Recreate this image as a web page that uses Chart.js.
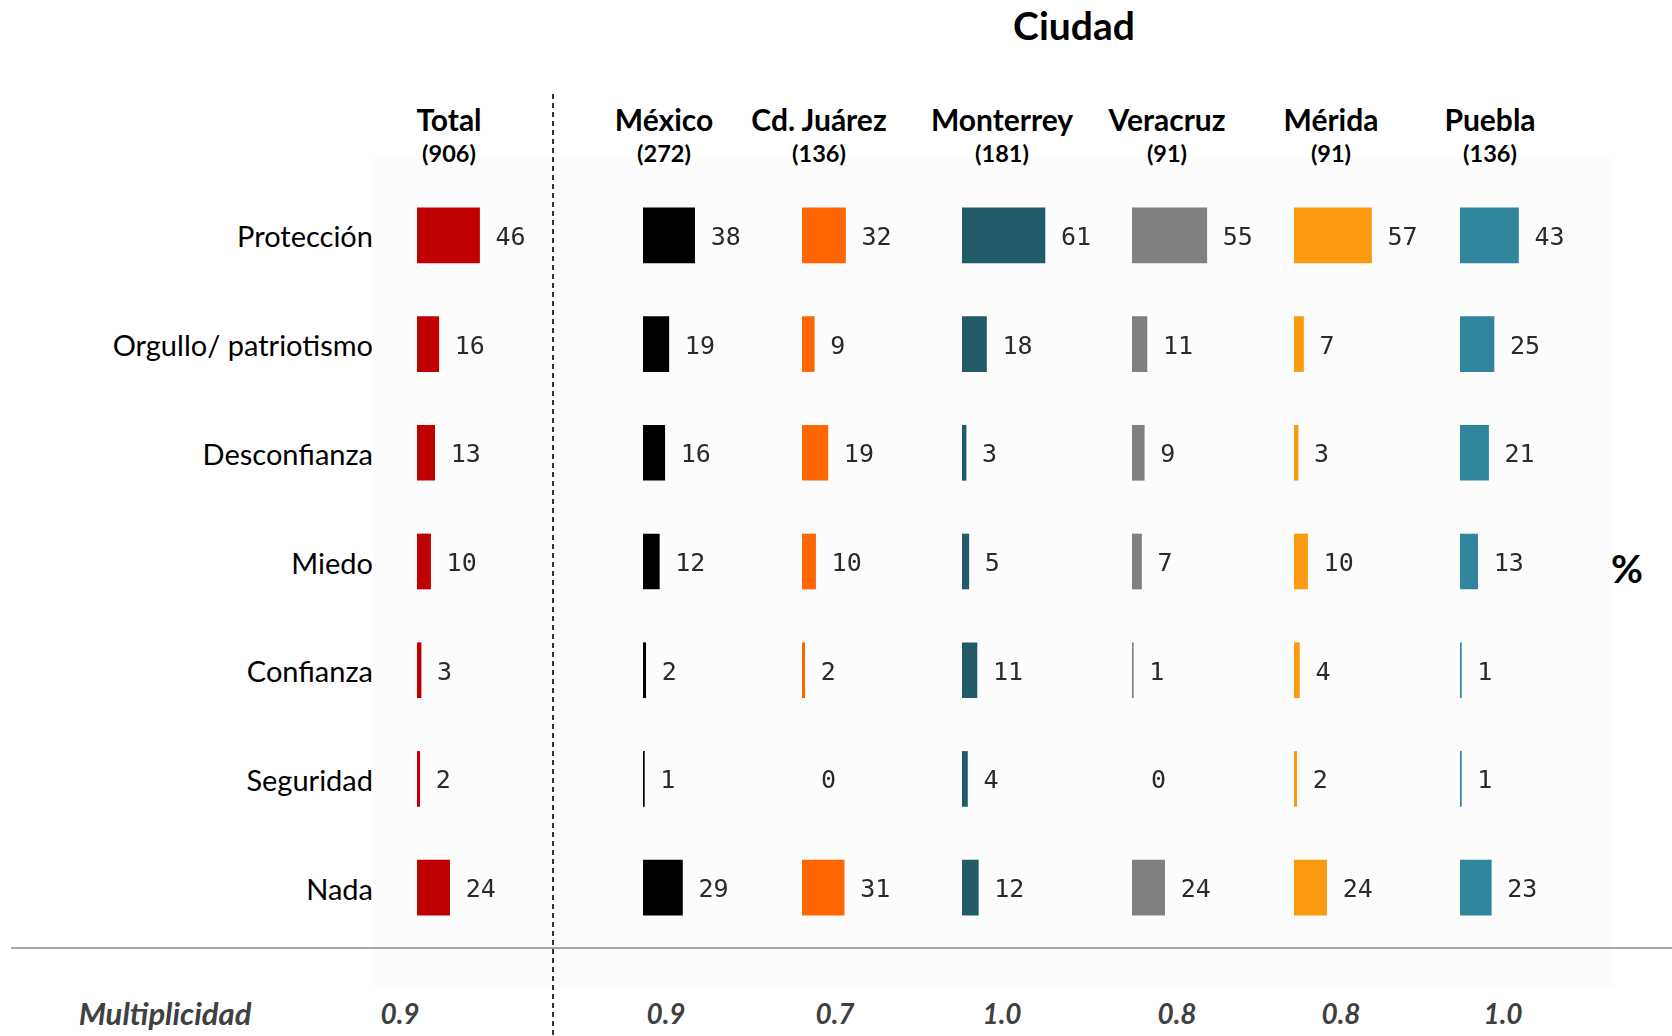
<!DOCTYPE html>
<html>
<head>
<meta charset="utf-8">
<script src="https://cdn.jsdelivr.net/npm/chart.js@4/dist/chart.umd.min.js"></script>
<style>
  body { margin: 0; background: #fff; width: 1672px; height: 1036px; overflow: hidden; position: relative; font-family: Lato, "Open Sans", sans-serif; }
  .abs { position: absolute; }
  .panel { position: absolute; top: 181px; }
  .title { font-weight: bold; font-size: 39px; color: #000; transform: translate(-50%, -50%); white-space: nowrap; }
  .head { font-weight: bold; font-size: 30px; color: #000; transform: translate(-50%, -50%); white-space: nowrap; }
  .n { font-weight: bold; font-size: 23.5px; color: #000; transform: translate(-50%, -50%); white-space: nowrap; }
  .mult { font-weight: bold; font-style: italic; font-size: 28px; color: #404040; transform: translate(-50%, -50%); white-space: nowrap; }
  .cat { font-size: 29px; color: #000; transform: translate(-100%, -50%); white-space: nowrap; }
  #bg { left: 373px; top: 158px; width: 1240px; height: 829px; background: #fcfcfc; }
  #vline { left: 552px; top: 94px; width: 2px; height: 942px;
           background: repeating-linear-gradient(to bottom, #333 0 5px, transparent 5px 9px); }
  #hline { left: 11px; top: 947px; width: 1661px; border-top: 2px solid #a6a6a6; }
</style>
</head>
<body>
<div id="bg" class="abs"></div>
<div id="vline" class="abs"></div>
<div id="hline" class="abs"></div>
<div class="abs title" style="left:1074px; top:25px;">Ciudad</div>
<div class="abs title" style="left:1627px; top:568px;">%</div>
<div id="heads"></div>
<canvas id="c0" class="panel" width="170" height="761"></canvas>
<canvas id="c1" class="panel" width="170" height="761"></canvas>
<canvas id="c2" class="panel" width="170" height="761"></canvas>
<canvas id="c3" class="panel" width="170" height="761"></canvas>
<canvas id="c4" class="panel" width="170" height="761"></canvas>
<canvas id="c5" class="panel" width="170" height="761"></canvas>
<canvas id="c6" class="panel" width="170" height="761"></canvas>
<script>
const categories = ['Protección', 'Orgullo/ patriotismo', 'Desconfianza', 'Miedo', 'Confianza', 'Seguridad', 'Nada'];
const groups = ['Total', 'México', 'Cd. Juárez', 'Monterrey', 'Veracruz', 'Mérida', 'Puebla'];
const sampleSizes = ['(906)', '(272)', '(136)', '(181)', '(91)', '(91)', '(136)'];
const totalValues = [46, 16, 13, 10, 3, 2, 24];
const mexicoValues = [38, 19, 16, 12, 2, 1, 29];
const juarezValues = [32, 9, 19, 10, 2, 0, 31];
const monterreyValues = [61, 18, 3, 5, 11, 4, 12];
const veracruzValues = [55, 11, 9, 7, 1, 0, 24];
const meridaValues = [57, 7, 3, 10, 4, 2, 24];
const pueblaValues = [43, 25, 21, 13, 1, 1, 23];
const multiplicity = ['0.9', '0.9', '0.7', '1.0', '0.8', '0.8', '1.0'];

const series = [totalValues, mexicoValues, juarezValues, monterreyValues, veracruzValues, meridaValues, pueblaValues];
const colors = ['#c00000', '#000000', '#ff6600', '#215a69', '#808080', '#fa9a0e', '#31859c'];

// layout (pixels)
const barLeft = [417, 643, 802, 962, 1132, 1294, 1460];
const headX = [449, 664, 819, 1002, 1167, 1331, 1490];
const multX = [400, 666, 835, 1002, 1177, 1341, 1503];
const panelWidth = 170;
const panelTop = 181;
const pxPerUnit = 1.36;

const heads = document.getElementById('heads');
groups.forEach((g, i) => {
    heads.insertAdjacentHTML('beforeend',
        `<div class="abs head" style="left:${headX[i]}px; top:119px;">${g}</div>` +
        `<div class="abs n" style="left:${headX[i]}px; top:153px;">${sampleSizes[i]}</div>` +
        `<div class="abs mult" style="left:${multX[i]}px; top:1013px;">${multiplicity[i]}</div>`);
});
heads.insertAdjacentHTML('beforeend', `<div class="abs mult" style="left:165px; top:1013px; font-size:31px;">Multiplicidad</div>`);

const valueLabels = {
    id: 'valueLabels',
    afterDatasetsDraw(chart) {
        const ctx = chart.ctx;
        const meta = chart.getDatasetMeta(0);
        const data = chart.data.datasets[0].data;
        const x0 = chart.scales.x.getPixelForValue(0);
        ctx.save();
        ctx.font = '25px "DejaVu Sans Mono", monospace';
        ctx.fillStyle = '#2a2a2a';
        ctx.textBaseline = 'middle';
        meta.data.forEach((bar, i) => {
            const x = data[i] === 0 ? x0 + 19 : bar.x + 16;
            ctx.fillText(String(data[i]), x, bar.y + 3);
        });
        ctx.restore();
    }
};

function makePanel(i) {
    const canvas = document.getElementById('c' + i);
    canvas.style.left = barLeft[i] + 'px';
    const chart = new Chart(canvas, {
        type: 'bar',
        data: {
            labels: categories,
            datasets: [{
                data: series[i],
                backgroundColor: c => (c.raw === 0 ? 'rgba(0,0,0,0)' : colors[i]),
                barThickness: 55
            }]
        },
        options: {
            indexAxis: 'y',
            responsive: false,
            animation: false,
            events: [],
            layout: { padding: 0 },
            plugins: { legend: { display: false }, tooltip: { enabled: false } },
            scales: {
                x: { display: false, min: 0, max: panelWidth / pxPerUnit },
                y: { display: false }
            }
        },
        plugins: [valueLabels]
    });
    // category labels sit to the left of the Total panel, on the chart's own rows
    if (i === 0) {
        const y = chart.scales.y;
        categories.forEach((c, k) => {
            heads.insertAdjacentHTML('beforeend',
                `<div class="abs cat" style="left:373px; top:${panelTop + y.getPixelForValue(k)}px;">${c}</div>`);
        });
    }
}

for (let i = 0; i < series.length; i++) makePanel(i);
</script>
</body>
</html>
